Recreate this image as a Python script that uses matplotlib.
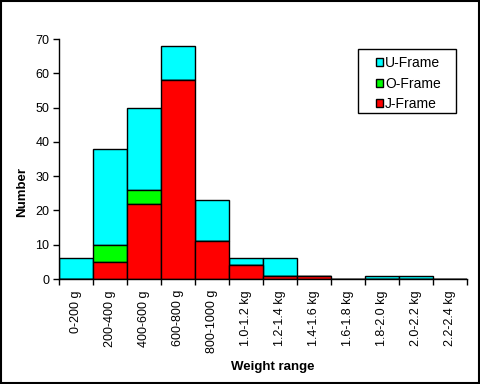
import matplotlib
matplotlib.use("Agg")
import matplotlib.pyplot as plt
from matplotlib.patches import Rectangle
import numpy as np

plt.rcParams['font.family'] = ['Liberation Sans', 'DejaVu Sans']

categories = ['0-200 g', '200-400 g', '400-600 g', '600-800 g', '800-1000 g',
              '1.0-1.2 kg', '1.2-1.4 kg', '1.4-1.6 kg', '1.6-1.8 kg',
              '1.8-2.0 kg', '2.0-2.2 kg', '2.2-2.4 kg']
j_frame = [0, 5, 22, 58, 11, 4, 1, 1, 0, 0, 0, 0]
o_frame = [0, 5, 4, 0, 0, 0, 0, 0, 0, 0, 0, 0]
u_frame = [6, 28, 24, 10, 12, 2, 5, 0, 0, 1, 1, 0]

fig = plt.figure(figsize=(4.8, 3.84), dpi=100)
ax = fig.add_axes([59/480, 1-279/384, (467-59)/480, (279-39)/384])

x = np.arange(len(categories))
j = np.array(j_frame); o = np.array(o_frame); u = np.array(u_frame)
kw = dict(width=1.0, edgecolor='black', linewidth=1.0, align='center')
ax.bar(x, u, bottom=j + o, color='#00FFFF', label='U-Frame', **kw)
ax.bar(x, o, bottom=j, color='#00FF00', label='O-Frame', **kw)
ax.bar(x, j, color='#FF0000', label='J-Frame', **kw)

ax.set_xlim(-0.5, len(categories) - 0.5)
ax.set_ylim(0, 70)
ax.set_yticks(range(0, 71, 10))
ax.tick_params(axis='y', labelsize=9, direction='out', length=4, width=1, pad=3)
ax.set_xticks(np.arange(len(categories) + 1) - 0.5)
ax.set_xticklabels([])
ax.tick_params(axis='x', direction='out', length=4, width=1)
ax.set_xticks(x, minor=True)
ax.set_xticklabels(categories, minor=True, rotation=90, fontsize=9, va='top', ha='center')
ax.tick_params(axis='x', which='minor', length=0, pad=8)
for s in ['top', 'right']:
    ax.spines[s].set_visible(False)
for s in ['left', 'bottom']:
    ax.spines[s].set_linewidth(1.0)

fig.text(273/480, 1-367/384, 'Weight range', fontsize=9.5, fontweight='bold', ha='center', va='center')
fig.text(22/480, 1-192/384, 'Number', fontsize=9.5, fontweight='bold', ha='center', va='center', rotation=90)

leg = fig.legend(loc='upper left', bbox_to_anchor=(376/480, 1-56/384), fontsize=10,
                 frameon=False, handlelength=0.5, handleheight=0.5,
                 handletextpad=0.15, borderpad=0, labelspacing=0.48, borderaxespad=0)

fig.patches.append(Rectangle((358/480, 1-113/384), 98/480, 64/384, transform=fig.transFigure,
                             fill=False, edgecolor='black', linewidth=1.0))
fig.patches.append(Rectangle((0.002, 0.002), 0.996, 0.996, transform=fig.transFigure,
                             fill=False, edgecolor='black', linewidth=1.5))

fig.savefig('out.png', dpi=100)
